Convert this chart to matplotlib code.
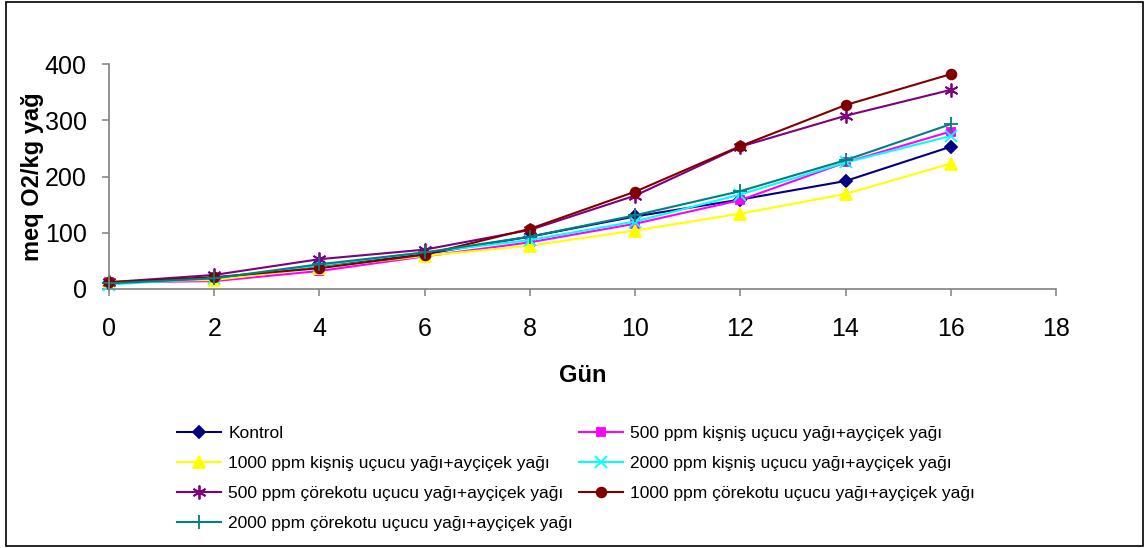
import matplotlib
matplotlib.use("Agg")
import matplotlib.pyplot as plt
from matplotlib.patches import Rectangle

plt.rcParams['font.family'] = ['Liberation Sans', 'DejaVu Sans']

days = [0, 2, 4, 6, 8, 10, 12, 14, 16]

labels = [
    "Kontrol",
    "500 ppm kişniş uçucu yağı+ayçiçek yağı",
    "1000 ppm kişniş uçucu yağı+ayçiçek yağı",
    "2000 ppm kişniş uçucu yağı+ayçiçek yağı",
    "500 ppm çörekotu uçucu yağı+ayçiçek yağı",
    "1000 ppm çörekotu uçucu yağı+ayçiçek yağı",
    "2000 ppm çörekotu uçucu yağı+ayçiçek yağı",
]

kontrol = [10, 18, 40, 62, 93, 129, 159, 192, 253]
kisnis_500 = [12, 14, 32, 58, 83, 116, 158, 225, 280]
kisnis_1000 = [14, 16, 38, 59, 77, 104, 134, 169, 223]
kisnis_2000 = [8, 19, 42, 65, 87, 120, 168, 225, 272]
corekotu_500 = [12, 25, 53, 70, 105, 166, 253, 308, 354]
corekotu_1000 = [12, 21, 37, 61, 107, 173, 254, 327, 382]
corekotu_2000 = [10, 19, 44, 65, 93, 131, 174, 229, 293]

series = [kontrol, kisnis_500, kisnis_1000, kisnis_2000,
          corekotu_500, corekotu_1000, corekotu_2000]

colors = ['#000080', '#FF00FF', '#FFFF00', '#00FFFF',
          '#800080', '#800000', '#008080']
markers = ['D', 's', '^', 'x', (6, 2, 0), 'o', '+']
msizes = [6, 6, 8, 8, 10, 7, 10]

W, H = 1146, 548
fig = plt.figure(figsize=(W / 100, H / 100), dpi=100)
ax = fig.add_axes([109 / W, 1 - 289 / H, 947 / W, 225 / H])

handles = []
for vals, lab, c, m, ms in zip(series, labels, colors, markers, msizes):
    h, = ax.plot(days, vals, color=c, lw=1.5, marker=m, ms=ms,
                 mfc=c, mec=c, mew=1.3, label=lab, clip_on=False)
    handles.append(h)

ax.set_xlim(0, 18)
ax.set_ylim(0, 400)
ax.set_xticks(range(0, 19, 2))
ax.set_yticks(range(0, 401, 100))

for side in ('top', 'right'):
    ax.spines[side].set_visible(False)
for side in ('left', 'bottom'):
    ax.spines[side].set_color('#808080')
    ax.spines[side].set_linewidth(1.2)

ax.tick_params(axis='both', direction='out', length=5, width=1.1,
               color='#808080', labelsize=18, labelcolor='black')
ax.tick_params(axis='x', pad=15)
ax.tick_params(axis='y', pad=11)

ax.set_xlabel("Gün", fontsize=17, fontweight='bold', labelpad=17)
ax.set_ylabel("meq O2/kg yağ", fontsize=17, fontweight='bold')
ax.yaxis.set_label_coords(-0.069, 0.5)

leg_kw = dict(frameon=False, fontsize=12.5, handlelength=2.55,
              handletextpad=0.4, labelspacing=0.85, borderpad=0,
              borderaxespad=0, loc='upper left')
col1 = [0, 2, 4, 6]
col2 = [1, 3, 5]
leg1 = fig.legend([handles[i] for i in col1], [labels[i] for i in col1],
                  bbox_to_anchor=(177 / W, 1 - 426 / H), **leg_kw)
leg2 = fig.legend([handles[i] for i in col2], [labels[i] for i in col2],
                  bbox_to_anchor=(579 / W, 1 - 426 / H), **leg_kw)

fig.patches.append(Rectangle((6 / W, 2 / H), 1137 / W, 544 / H,
                             transform=fig.transFigure, fill=False,
                             ec='black', lw=1.2))

fig.savefig("out.png", dpi=100)
